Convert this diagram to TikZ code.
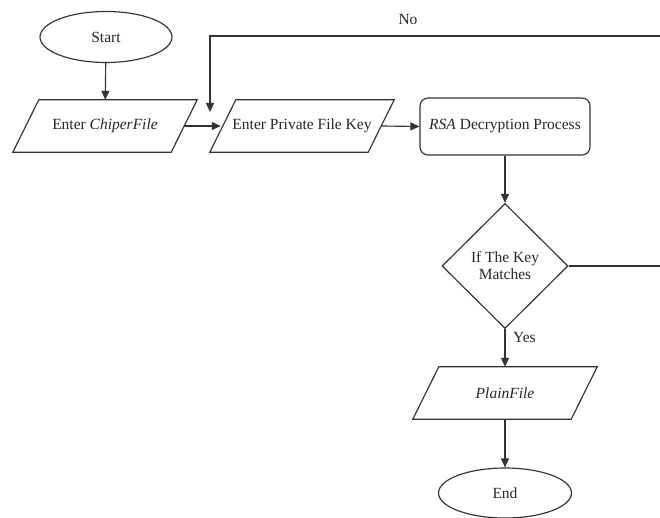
\documentclass[tikz,border=0pt]{standalone}
\usepackage{fontspec}
\setmainfont{Liberation Serif}
\newfontfamily\flowfont{Liberation Serif}
\usetikzlibrary{shapes.geometric,arrows.meta}
\begin{document}
\begin{tikzpicture}[x=1pt,y=-1pt,
  every node/.style={font=\flowfont\fontsize{15.5}{17}\selectfont, text=black!85},
  line/.style={draw=black!80, line width=1.15pt},
  flow/.style={line, -{Triangle[length=9pt,width=8pt]}},
  terminal/.style={ellipse, line, minimum width=132pt, minimum height=51pt, inner sep=0pt},
  iobox/.style={minimum width=158pt, minimum height=52pt, inner sep=0pt},
  process/.style={rectangle, rounded corners=8pt, line, minimum width=170pt, minimum height=57pt, inner sep=0pt},
  decision/.style={diamond, line, minimum width=126pt, minimum height=125pt, inner sep=0pt, align=center},
  lbl/.style={inner sep=1pt}
]
\useasboundingbox (0,0) rectangle (660,518);
\clip (0,0) rectangle (660,518);

% nodes
\node[terminal] (start) at (106,37) {Start};
\node[iobox] (cf) at (105,126) {Enter \textit{ChiperFile}};
\node[iobox] (pk) at (302,126) {Enter Private File Key};
\node[process] (rsa) at (505,126.5) {\textit{RSA} Decryption Process};
\node[decision] (dec) at (505,266) {If The Key\\Matches};
\node[iobox] (pf) at (505,393) {\textit{PlainFile}};
\node[terminal, minimum width=133pt, minimum height=50pt] (end) at (505,493) {End};

% parallelogram outlines of the input/output boxes
\foreach \n in {cf,pk,pf}{
  \draw[line, line join=miter]
    ([xshift=13pt]\n.north west) -- ([xshift=13pt]\n.north east) --
    ([xshift=-13pt]\n.south east) -- ([xshift=-13pt]\n.south west) -- cycle;
}

% connectors
\draw[flow] (start) -- (cf);
\draw[flow] (cf.east) -- ([xshift=-2pt]pk.west);
\draw[flow] (pk.east) -- (rsa.west);
\draw[flow] (rsa) -- (dec);
\draw[flow] (dec) -- (pf);
\node[lbl, anchor=west] (yes) at (512,337) {Yes};
\draw[flow] (pf) -- (end);

% "No" branch looping back to the key entry
\coordinate (back) at (210,112);
\draw[flow] (dec.east) -- (670,266) -- (670,36) -- (210,36) -- (back);
\node[lbl] (no) at (408,20) {No};
\end{tikzpicture}
\end{document}
